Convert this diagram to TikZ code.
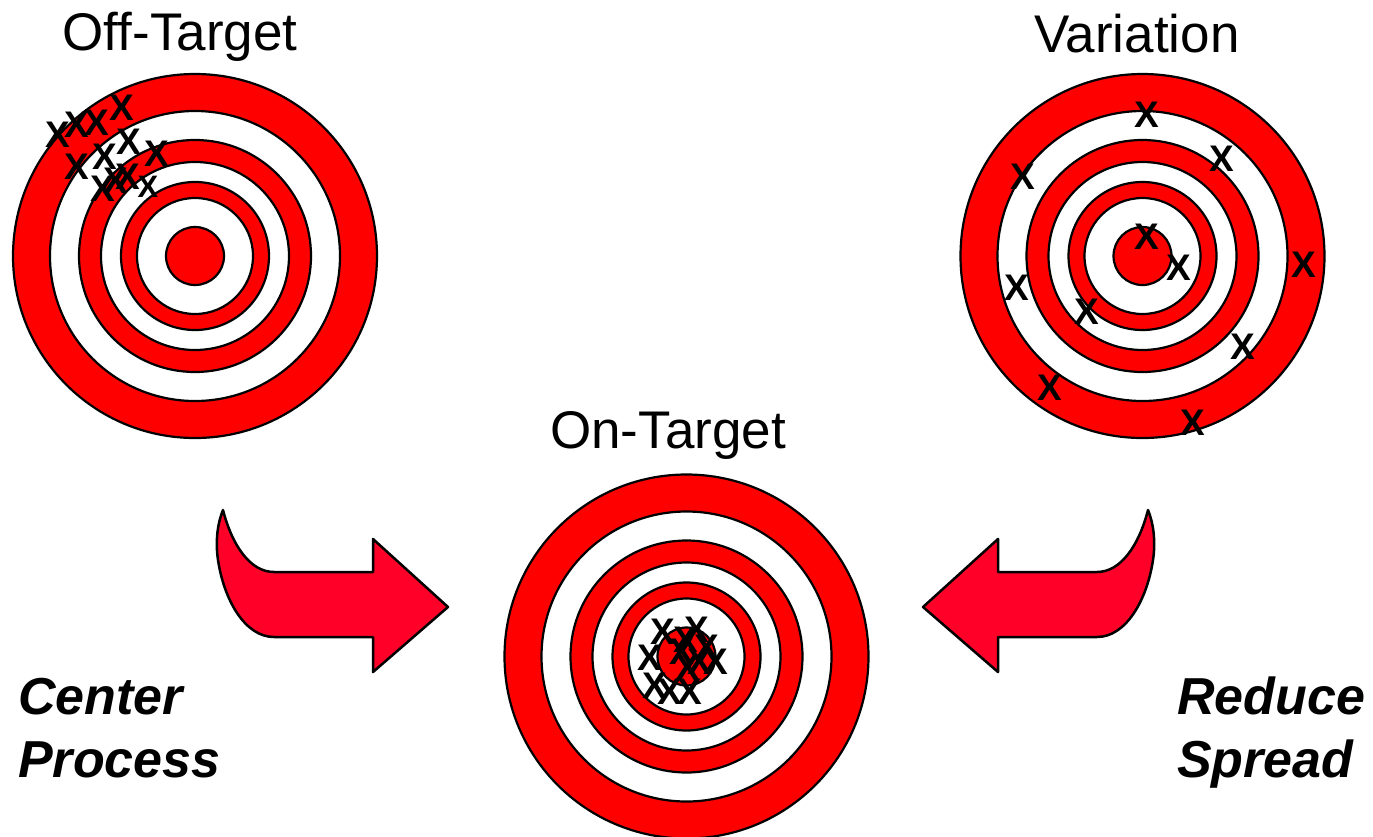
\documentclass[tikz,border=0pt]{standalone}
\usepackage{fontspec}
\setmainfont{Liberation Sans}
\definecolor{tred}{RGB}{255,0,0}
\definecolor{ared}{RGB}{255,0,40}
\tikzset{
  ring/.style={draw=black, line width=2.2pt},
  title/.style={anchor=base, inner sep=0pt, font=\fontsize{53}{53}\selectfont},
  side/.style={anchor=base west, inner sep=0pt, font=\bfseries\itshape\fontsize{52}{52}\selectfont},
  xm/.style={inner sep=0pt, font=\bfseries\fontsize{37}{37}\selectfont},
  bigarrow/.style={draw=black, line width=2.5pt, fill=ared, line join=round},
}
\newcommand\drawtarget[2]{%
  \foreach \r/\c in {182/tred,145/white,116/tred,94/white,74/tred,58/white,29/tred}{%
    \draw[ring, fill=\c] (#1,#2) circle[radius=\r pt];
  }%
}
\newcommand\arrowshape{%
  (223,510) .. controls (232,545) and (250,572) .. (274,572)
  -- (373,572) -- (373,539) -- (448,607) -- (373,672) -- (373,637) -- (274,637)
  .. controls (245,637) and (224,600) .. (218,560)
  .. controls (215,540) and (218,522) .. (223,510) -- cycle}
\begin{document}
\begin{tikzpicture}[x=1pt,y=-1pt]
\useasboundingbox (0,0) rectangle (1373,836);
\fill[white] (0,0) rectangle (1373,836);
% targets
\drawtarget{195}{256}
\drawtarget{1142.5}{256}
\drawtarget{686.5}{656.5}
% titles
\node[title] (toff) at (180,50) {Off-Target};
\node[title] (tvar) at (1137,52) {Variation};
\node[title] (ton) at (668,448) {On-Target};
% side labels
\node[side] (c1) at (18,714) {Center};
\node[side] (c2) at (18,777) {Process};
\node[side] (r1) at (1177,714) {Reduce};
\node[side] (r2) at (1177,777) {Spread};
% arrows
\draw[bigarrow] \arrowshape;
\begin{scope}[xshift=1371pt, xscale=-1]
\draw[bigarrow] \arrowshape;
\end{scope}
% off-target marks
\node[xm] (o1) at (58,135) {X};
\node[xm] (o2) at (77,125) {X};
\node[xm] (o3) at (97,123) {X};
\node[xm] (o4) at (122,108) {X};
\node[xm] (o5) at (129,142) {X};
\node[xm] (o6) at (157,154) {X};
\node[xm] (o7) at (77,167) {X};
\node[xm] (o8) at (105,157) {X};
\node[xm] (o9) at (103,189) {X};
\node[xm] (o10) at (116,181) {X};
\node[xm] (o11) at (128,177) {X};
\node[xm, font=\bfseries\fontsize{31}{31}\selectfont] (o12) at (148,187) {X};
% variation marks
\node[xm] (v1) at (1147,115) {X};
\node[xm] (v2) at (1222,159) {X};
\node[xm] (v3) at (1023,177) {X};
\node[xm] (v4) at (1147,237) {X};
\node[xm] (v5) at (1179,268) {X};
\node[xm] (v6) at (1304,265) {X};
\node[xm] (v7) at (1017,288) {X};
\node[xm] (v8) at (1087,312) {X};
\node[xm] (v9) at (1243,347) {X};
\node[xm] (v10) at (1050,388) {X};
\node[xm] (v11) at (1193,423) {X};
% on-target marks
\node[xm] (n1) at (663,632) {X};
\node[xm] (n2) at (697,630) {X};
\node[xm] (n3) at (686,640) {X};
\node[xm] (n4) at (650,658) {X};
\node[xm] (n5) at (682,652) {X};
\node[xm] (n6) at (700,662) {X};
\node[xm] (n7) at (716,662) {X};
\node[xm] (n8) at (707,648) {X};
\node[xm] (n9) at (655,686) {X};
\node[xm] (n10) at (670,692) {X};
\node[xm] (n11) at (690,692) {X};
\node[xm] (n12) at (688,668) {X};
\end{tikzpicture}
\end{document}
